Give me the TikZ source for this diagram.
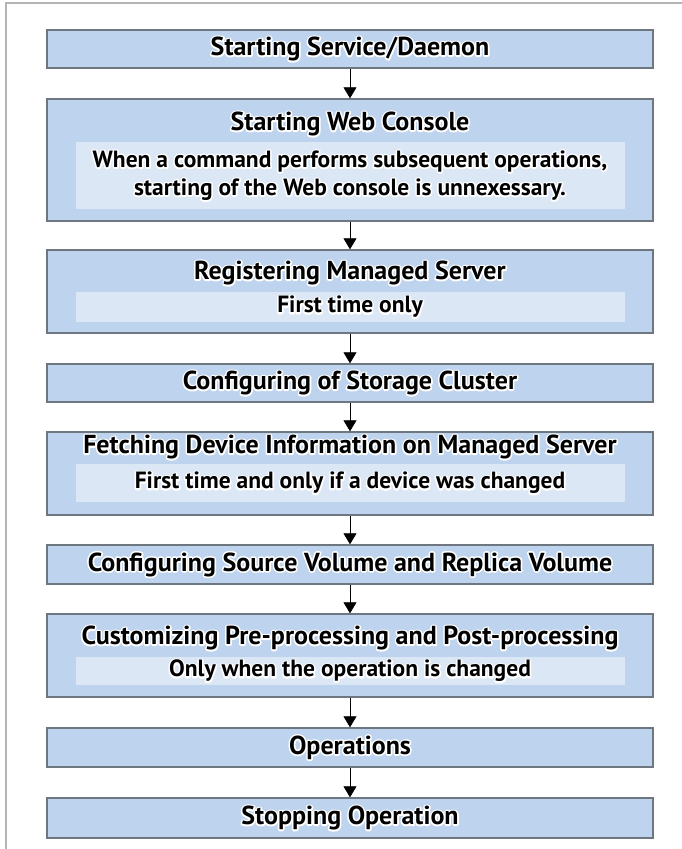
\documentclass[tikz,border=0pt]{standalone}
\usepackage{fontspec}
\setmainfont{PT Sans}
\usetikzlibrary{arrows.meta,positioning}
\definecolor{boxfill}{HTML}{BDD3EE}
\definecolor{notefill}{HTML}{DCE7F5}
\definecolor{boxline}{HTML}{6E7680}
\definecolor{frameline}{HTML}{B4B4B4}
% testo con alone bianco
\newcommand{\glow}[1]{\rlap{\color{white}\special{pdf:literal direct 2 Tr 1 1 1 RG 3.2 w 1 j}#1\special{pdf:literal direct 0 Tr}}#1}
\tikzset{
  stepbox/.style={draw=boxline, fill=boxfill, line width=1.4pt, minimum width=606pt, inner sep=0pt,
    font=\fontsize{26}{28}\selectfont\bfseries},
  notebox/.style={fill=notefill, minimum width=549pt, inner sep=0pt, align=center,
    font=\fontsize{23.5}{28}\selectfont\bfseries},
  title/.style={font=\fontsize{26}{28}\selectfont\bfseries},
  flow/.style={-{Triangle[length=11pt,width=13pt]}, line width=0.8pt},
}
\begin{document}
\begin{tikzpicture}[x=1pt, y=-1pt]
    \useasboundingbox (0,0) rectangle (682,849);
    % Cornice
    \draw[frameline, line width=2.5pt] (6,849) -- (6,3) -- (682,3);

    % Passi semplici
    \node[stepbox, minimum height=38pt] (service) at (350,49) {\glow{Starting Service/Daemon}};
    \node[stepbox, minimum height=38pt] (cluster) at (350,383) {\glow{Configuring of Storage Cluster}};
    \node[stepbox, minimum height=39pt] (source) at (350,564.5) {\glow{Configuring Source Volume and Replica Volume}};
    \node[stepbox, minimum height=39pt] (ops) at (350,747.5) {\glow{Operations}};
    \node[stepbox, minimum height=40pt] (stop) at (350,818) {\glow{Stopping Operation}};

    % Passi con nota
    \node[stepbox, minimum height=122pt] (web) at (350,160) {};
    \node[title] (webtitle) at (350,124) {\glow{Starting Web Console}};
    \node[notebox, minimum height=67pt] (webnote) at (350,175.5)
        {\glow{When a command performs subsequent operations,}\\\glow{starting of the Web console is unnexessary.}};

    \node[stepbox, minimum height=83pt] (register) at (350,291.5) {};
    \node[title] (registertitle) at (350,273) {\glow{Registering Managed Server}};
    \node[notebox, minimum height=30pt] (registernote) at (350,307) {\glow{First time only}};

    \node[stepbox, minimum height=83pt] (fetch) at (350,473.5) {};
    \node[title] (fetchtitle) at (350,447) {\glow{Fetching Device Information on Managed Server}};
    \node[notebox, minimum height=38pt] (fetchnote) at (350,483) {\glow{First time and only if a device was changed}};

    \node[stepbox, minimum height=83pt] (custom) at (350,655.5) {};
    \node[title] (customtitle) at (350,638) {\glow{Customizing Pre-processing and Post-processing}};
    \node[notebox, minimum height=28pt] (customnote) at (350,671) {\glow{Only when the operation is changed}};

    % Frecce
    \foreach \a/\b in {service/web, web/register, register/cluster, cluster/fetch,
                       fetch/source, source/custom, custom/ops, ops/stop} {
        \draw[flow] (\a) -- (\b);
    }
\end{tikzpicture}
\end{document}
